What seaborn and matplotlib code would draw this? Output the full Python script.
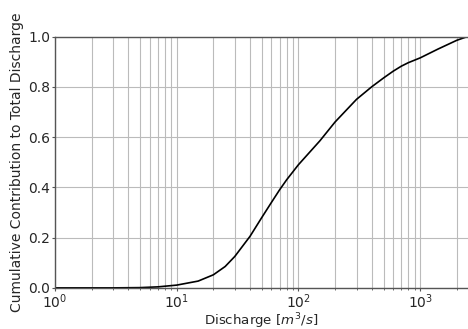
import pandas as pd
import matplotlib
matplotlib.use('Agg')
import matplotlib.pyplot as plt
import seaborn as sns

# Discharge values (m3/s) and cumulative share of total discharge
discharge = [1, 2, 3, 5, 7, 10, 15, 20, 25, 30, 40, 50, 60, 70, 80, 100,
             150, 200, 300, 400, 500, 600, 700, 800, 1000, 1400, 2000, 2450]
cum_share = [0.0, 0.0, 0.0, 0.001, 0.004, 0.011, 0.027, 0.052, 0.085, 0.125,
             0.205, 0.28, 0.34, 0.39, 0.43, 0.49, 0.585, 0.66, 0.75, 0.80,
             0.835, 0.862, 0.882, 0.896, 0.915, 0.95, 0.985, 1.0]

df = pd.DataFrame({'Discharge': discharge, 'Cumulative': cum_share})

sns.set_style('white')
plt.rcParams['font.family'] = ['DejaVu Sans']

fig = plt.figure(figsize=(4.68, 3.29), dpi=100)
ax = fig.add_axes([0.1175, 0.125, 0.8815, 0.764])

sns.lineplot(data=df, x='Discharge', y='Cumulative', color='black', linewidth=1.2, ax=ax)

ax.set_xscale('log')
ax.set_xlim(1, 2450)
ax.set_ylim(0, 1.0)
ax.set_yticks([0.0, 0.2, 0.4, 0.6, 0.8, 1.0])

ax.grid(True, which='both', axis='x', color='#bbbbbb', linewidth=0.8)
ax.grid(True, which='major', axis='y', color='#bbbbbb', linewidth=0.8)

for side in ['left', 'top', 'bottom']:
    ax.spines[side].set_color('#555555')
    ax.spines[side].set_linewidth(1.0)
ax.spines['right'].set_visible(False)

ax.tick_params(which='both', direction='out', color='#555555', labelsize=10,
               left=True, bottom=True, pad=1.5)
ax.tick_params(which='major', length=2)
ax.tick_params(which='minor', length=1.5)

ax.set_xlabel('Discharge [$m^3/s$]', fontsize=9.6, labelpad=0)
ax.set_ylabel('Cumulative Contribution to Total Discharge', fontsize=10, labelpad=3)

fig.savefig('out.png', dpi=100)
